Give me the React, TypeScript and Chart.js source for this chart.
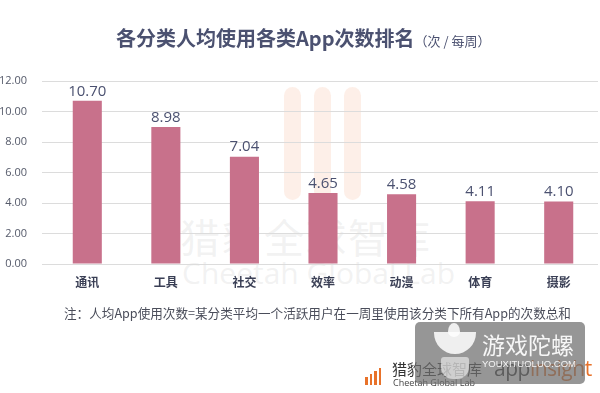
import React, { useEffect, useRef } from "react";
import { Chart, registerables } from "chart.js";

Chart.register(...registerables);

const categories = ["通讯", "工具", "社交", "效率", "动漫", "体育", "摄影"];
const values = [10.7, 8.98, 7.04, 4.65, 4.58, 4.11, 4.1];
const yTicks = [0, 2, 4, 6, 8, 10, 12];

const FONT = '"Noto Sans CJK SC", "Noto Sans", sans-serif';

const valueLabelPlugin = {
  id: "valueLabels",
  afterDatasetsDraw(chart: any) {
    const ctx = chart.ctx;
    const meta = chart.getDatasetMeta(0);
    ctx.save();
    ctx.font = `15px "Open Sans", sans-serif`;
    ctx.fillStyle = "#4b5170";
    ctx.textAlign = "center";
    ctx.textBaseline = "bottom";
    meta.data.forEach((bar: any, i: number) => {
      ctx.fillText(values[i].toFixed(2), bar.x, bar.y - 2);
    });
    ctx.restore();
  },
};

export default function App() {
  const ref = useRef<HTMLCanvasElement>(null);
  useEffect(() => {
    if (!ref.current) return;
    const chart = new Chart(ref.current, {
      type: "bar",
      data: {
        labels: categories,
        datasets: [
          {
            data: values,
            backgroundColor: "#c8718b",
            barPercentage: 0.37,
            categoryPercentage: 1,
          },
        ],
      },
      options: {
        animation: false,
        responsive: false,
        maintainAspectRatio: false,
        layout: { padding: { top: 81, left: 0, right: 2, bottom: 89 } },
        plugins: { legend: { display: false }, tooltip: { enabled: false } },
        scales: {
          x: {
            grid: { display: false, drawTicks: false },
            border: { display: false },
            ticks: {
              padding: 11,
              color: "#3a3f55",
              font: { family: FONT, size: 12, weight: "bold" },
            },
            afterFit: (s: any) => {
              s.height = 40;
            },
          },
          y: {
            min: 0,
            max: 12,
            afterBuildTicks: (s: any) => {
              s.ticks = yTicks.map((v) => ({ value: v }));
            },
            grid: { color: "#dcdcdc", tickLength: 6, lineWidth: 1 },
            border: { display: false },
            ticks: {
              padding: 15,
              color: "#555a6a",
              font: { family: '"Open Sans", sans-serif', size: 11 },
              callback: (v: any) => Number(v).toFixed(2),
            },
            afterFit: (s: any) => {
              s.width = 48;
            },
          },
        },
      },
      plugins: [valueLabelPlugin],
    });
    return () => chart.destroy();
  }, []);

  const wm = "rgba(190,190,190,0.2)";
  return (
    <div
      style={{
        position: "absolute",
        left: 0,
        top: 0,
        width: 600,
        height: 393,
        background: "#fff",
        overflow: "hidden",
        fontFamily: FONT,
      }}
    >
      {/* watermark orange bars */}
      {[284, 314, 344].map((x) => (
        <div
          key={x}
          style={{
            position: "absolute",
            left: x,
            top: 87,
            width: 17,
            height: 113,
            borderRadius: 9,
            background: "rgba(245,190,160,0.24)",
          }}
        />
      ))}
      <div
        style={{
          position: "absolute",
          left: 180,
          top: 212,
          fontSize: 40,
          letterSpacing: 2,
          color: wm,
          whiteSpace: "nowrap",
          lineHeight: "48px",
        }}
      >
        猎豹全球智库
      </div>
      <div
        style={{
          position: "absolute",
          left: 182,
          top: 255,
          fontSize: 30,
          color: wm,
          whiteSpace: "nowrap",
          lineHeight: "36px",
          fontFamily: '"Open Sans", sans-serif',
        }}
      >
        Cheetah Global Lab
      </div>
      <canvas
        ref={ref}
        width={600}
        height={393}
        style={{ position: "absolute", left: 0, top: 0 }}
      />
      <div
        style={{
          position: "absolute",
          left: 116,
          top: 24,
          whiteSpace: "nowrap",
          color: "#4b5170",
          lineHeight: "28px",
        }}
      >
        <span style={{ fontSize: 20, fontWeight: "bold" }}>各分类人均使用各类App次数排名</span>
        <span style={{ fontSize: 13 }}>（次 / 每周）</span>
      </div>
      <div
        style={{
          position: "absolute",
          left: 64,
          top: 304,
          fontSize: 12.6,
          color: "#4a4d5a",
          whiteSpace: "nowrap",
          lineHeight: "18px",
        }}
      >
        注：人均App使用次数=某分类平均一个活跃用户在一周里使用该分类下所有App的次数总和
      </div>
      {/* bottom logo */}
      <div style={{ position: "absolute", left: 365, top: 368, display: "flex", alignItems: "flex-end", gap: 2 }}>
        {[8, 11, 14, 17].map((h, i) => (
          <div key={i} style={{ width: 2.5, height: h, background: "#e8722a" }} />
        ))}
      </div>
      <div
        style={{
          position: "absolute",
          left: 392,
          top: 360,
          fontSize: 15,
          color: "#333",
          whiteSpace: "nowrap",
          lineHeight: "17px",
        }}
      >
        猎豹全球智库
      </div>
      <div
        style={{
          position: "absolute",
          left: 393,
          top: 377,
          fontSize: 9,
          color: "#444",
          whiteSpace: "nowrap",
          lineHeight: "11px",
          fontFamily: '"Open Sans", sans-serif',
        }}
      >
        Cheetah Global Lab
      </div>
      <div
        style={{
          position: "absolute",
          left: 494,
          top: 355,
          fontSize: 21,
          whiteSpace: "nowrap",
          lineHeight: "26px",
          fontFamily: '"Open Sans", sans-serif',
          letterSpacing: -0.5,
        }}
      >
        <span style={{ color: "#333" }}>app</span>
        <span style={{ color: "#e8722a" }}>insight</span>
      </div>
      {/* overlay box */}
      <div
        style={{
          position: "absolute",
          left: 415,
          top: 322,
          width: 170,
          height: 62,
          borderRadius: 5,
          background: "rgba(110,110,110,0.72)",
        }}
      />
      <div
        style={{
          position: "absolute",
          left: 434,
          top: 332,
          width: 42,
          height: 22,
          borderBottomLeftRadius: 21,
          borderBottomRightRadius: 21,
          background: "rgba(255,255,255,0.85)",
        }}
      />
      <div
        style={{
          position: "absolute",
          left: 448,
          top: 323,
          width: 12,
          height: 14,
          borderRadius: "50% 50% 50% 50% / 60% 60% 40% 40%",
          background: "rgba(255,255,255,0.85)",
        }}
      />
      <div
        style={{
          position: "absolute",
          left: 441,
          top: 357,
          width: 28,
          height: 22,
          borderRadius: "3px 3px 12px 12px",
          background: "rgba(255,255,255,0.55)",
        }}
      />
      <div
        style={{
          position: "absolute",
          left: 482,
          top: 331,
          fontSize: 23,
          color: "rgba(255,255,255,0.92)",
          whiteSpace: "nowrap",
          lineHeight: "26px",
        }}
      >
        游戏陀螺
      </div>
      <div
        style={{
          position: "absolute",
          left: 482,
          top: 358,
          fontSize: 9.5,
          color: "rgba(255,255,255,0.9)",
          whiteSpace: "nowrap",
          lineHeight: "11px",
          fontFamily: '"Liberation Sans", sans-serif',
        }}
      >
        YOUXITUOLUO.COM
      </div>
    </div>
  );
}
